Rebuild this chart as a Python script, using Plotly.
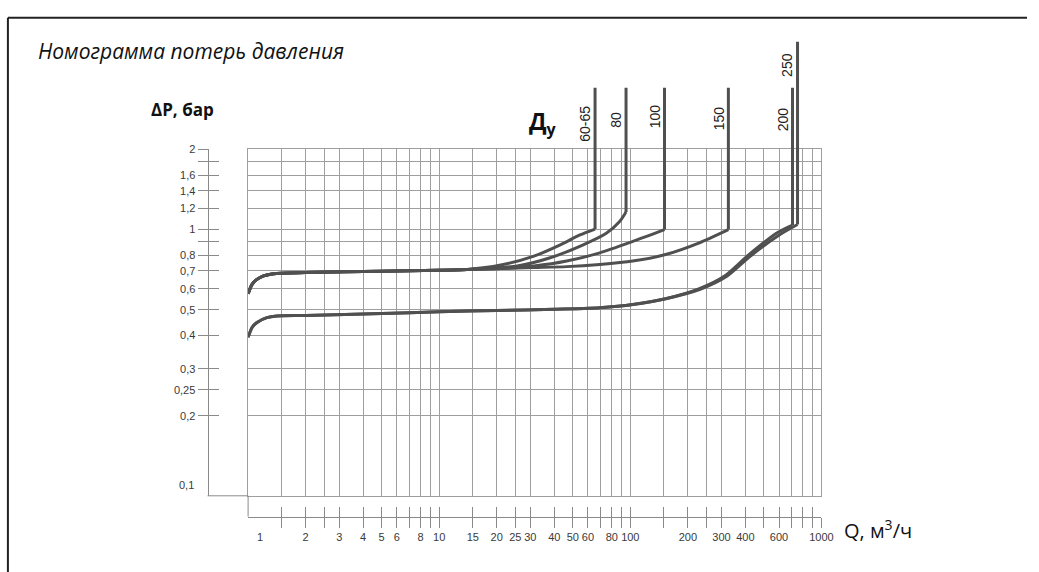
import math
import plotly.graph_objects as go

# ---------------- data ----------------
x_grid_vals = [1, 1.5, 2, 2.5, 3, 4, 5, 6, 7, 8, 9, 10, 15, 20, 25, 30, 40, 50, 60, 70,
               80, 90, 100, 150, 200, 250, 300, 400, 500, 600, 700, 800, 900, 1000]
x_label_vals = [2, 3, 4, 5, 6, 8, 10, 15, 20, 25, 30, 40, 50, 60, 80, 100, 200, 300, 400, 600, 1000]
x_label_text = ["2", "3", "4", "5", "6", "8", "10", "15", "20", "25", "30", "40", "50", "60",
                "80", "100", "200", "300", "400", "600", "1000"]

y_grid_vals = [0.1, 0.2, 0.25, 0.3, 0.4, 0.5, 0.6, 0.7, 0.8, 0.9, 1, 1.2, 1.4, 1.6, 1.8, 2]
y_tick_vals = [0.2, 0.25, 0.3, 0.4, 0.5, 0.6, 0.7, 0.8, 0.9, 1, 1.2, 1.4, 1.6, 1.8, 2]
y_tick_text = ["0,2", "0,25", "0,3", "0,4", "0,5", "0,6", "0,7", "0,8", " ", "1", "1,2", "1,4",
               "1,6", " ", "2"]

# common start of the upper family (DN 60-65 ... 150)
q_upper_base = [1.0, 1.049, 1.113, 1.205, 1.358, 2.0, 5.0, 10.0, 14.0]
dp_upper_base = [0.574, 0.623, 0.650, 0.670, 0.683, 0.690, 0.698, 0.703, 0.708]
# common start of the lower family (DN 200, 250)
q_lower_base = [1.0, 1.049, 1.113, 1.254, 1.412, 2.0, 5.0, 10.0, 20.0, 40.0, 69.0, 103.0, 153.0]
dp_lower_base = [0.394, 0.429, 0.448, 0.467, 0.474, 0.476, 0.484, 0.491, 0.497, 0.502, 0.509,
                 0.523, 0.550]

q_dn60 = [21.0, 31.3, 43.0, 54.5, 65.4]
dp_dn60 = [0.736, 0.795, 0.877, 0.955, 1.005]
q_dn80 = [17.2, 25.6, 38.1, 56.7, 74.9, 87.7, 95.0]
dp_dn80 = [0.714, 0.730, 0.784, 0.877, 0.969, 1.07, 1.165]
q_dn100 = [21.0, 31.3, 46.5, 69.2, 103.0, 151.0]
dp_dn100 = [0.714, 0.730, 0.762, 0.818, 0.903, 1.0]
q_dn150 = [31.3, 46.5, 69.2, 103.0, 153.0, 228.0, 326.0]
dp_dn150 = [0.720, 0.726, 0.740, 0.762, 0.806, 0.890, 1.0]
q_dn200 = [228.0, 313.0, 413.0, 590.0, 706.0]
dp_dn200 = [0.599, 0.671, 0.800, 0.975, 1.04]
q_dn250 = [232.0, 320.0, 425.0, 610.0, 750.0]
dp_dn250 = [0.597, 0.668, 0.795, 0.960, 1.045]

dn_names = ["60-65", "80", "100", "150", "200", "250"]
dp_top = [3.41, 3.41, 3.41, 3.41, 3.41, 5.08]

# ---------------- layout geometry ----------------
W, H = 1039, 572
GX0, GX1 = 251, 831      # grid left/right (px)
GY0, GY1 = 145, 495      # grid top/bottom (px)
Y2_TOP = 28              # top of the curve layer (px)
YSCALE_X = 210           # left pressure scale (px)
XSCALE_Y = 516           # lower flow scale (px)


def fx(px):
    return px / W


def fy(py):
    return (H - py) / H


y_range = [math.log10(0.1), math.log10(2)]
px_per_dec = (GY1 - GY0) / (y_range[1] - y_range[0])
x_px_per_dec = (GX1 - GX0) / 3.0
y2_range = [y_range[0], y_range[0] + (GY1 - Y2_TOP) / px_per_dec]

LINE_COLOR = "#505050"
GRID_COLOR = "#9e9e9e"
SCALE_COLOR = "#8a8a8a"
TICK_FONT = dict(family="Liberation Sans, Arial", size=11, color="#3a3a3a")

fig = go.Figure()

series = [
    (q_upper_base + q_dn60, dp_upper_base + dp_dn60),
    (q_upper_base + q_dn80, dp_upper_base + dp_dn80),
    (q_upper_base + q_dn100, dp_upper_base + dp_dn100),
    (q_upper_base + q_dn150, dp_upper_base + dp_dn150),
    (q_lower_base + q_dn200, dp_lower_base + dp_dn200),
    (q_lower_base + q_dn250, dp_lower_base + dp_dn250),
]

for name, (q, dp), top in zip(dn_names, series, dp_top):
    fig.add_trace(go.Scatter(x=q, y=dp, mode="lines", xaxis="x2", yaxis="y2",
                             line=dict(color=LINE_COLOR, width=3, shape="spline", smoothing=0.7),
                             showlegend=False, hoverinfo="skip", name=name))
    fig.add_trace(go.Scatter(x=[q[-1], q[-1]], y=[dp[-1], top], mode="lines", xaxis="x2", yaxis="y2",
                             line=dict(color=LINE_COLOR, width=3),
                             showlegend=False, hoverinfo="skip", name=name))

# empty traces so that every axis pair exists
fig.add_trace(go.Scatter(x=[], y=[], xaxis="x", yaxis="y", showlegend=False))
fig.add_trace(go.Scatter(x=[], y=[], xaxis="x3", yaxis="y3", showlegend=False))
fig.add_trace(go.Scatter(x=[], y=[], xaxis="x4", yaxis="y4", showlegend=False))
fig.add_trace(go.Scatter(x=[], y=[], xaxis="x5", yaxis="y", showlegend=False))
fig.add_trace(go.Scatter(x=[], y=[], xaxis="x6", yaxis="y", showlegend=False))

xdom = [fx(GX0), fx(GX1)]
ydom = [fy(GY1), fy(GY0)]
y2dom = [fy(GY1), fy(Y2_TOP)]

grid_axis = dict(showgrid=True, gridcolor=GRID_COLOR, gridwidth=1, showticklabels=False,
                 ticks="", zeroline=False, showline=True, linecolor=GRID_COLOR, linewidth=1,
                 mirror=True)

x_scale_text = [(x_label_text[x_label_vals.index(v)] if v in x_label_vals else " ")
                for v in x_grid_vals[1:]]

fig.update_layout(
    width=W, height=H, margin=dict(l=0, r=0, t=0, b=0),
    paper_bgcolor="white", plot_bgcolor="rgba(0,0,0,0)",
    xaxis=dict(type="log", domain=xdom, range=[0, 3], tickmode="array", tickvals=x_grid_vals,
               anchor="y", **grid_axis),
    yaxis=dict(type="log", domain=ydom, range=y_range, tickmode="array", tickvals=y_grid_vals,
               anchor="x", **grid_axis),
    xaxis2=dict(type="log", domain=xdom, range=[0, 3], visible=False, anchor="y2"),
    yaxis2=dict(type="log", domain=y2dom, range=y2_range, visible=False, anchor="x2"),
    # left pressure scale: ticks crossing the scale line
    yaxis3=dict(type="log", range=y_range, overlaying="y", anchor="free", position=fx(YSCALE_X),
                side="left", tickmode="array", tickvals=y_tick_vals, ticktext=y_tick_text,
                ticks="outside", ticklen=10, tickcolor=SCALE_COLOR, tickwidth=1,
                showline=True, linecolor=SCALE_COLOR, linewidth=1, showgrid=False, zeroline=False,
                tickfont=TICK_FONT),
    xaxis3=dict(type="log", range=[0, 3], domain=xdom, anchor="y3", visible=False),
    yaxis4=dict(type="log", range=y_range, overlaying="y", anchor="free", position=fx(YSCALE_X),
                side="left", tickmode="array", tickvals=y_tick_vals, showticklabels=False,
                ticks="inside", ticklen=10, tickcolor=SCALE_COLOR, tickwidth=1,
                showline=False, showgrid=False, zeroline=False),
    xaxis4=dict(type="log", range=[0, 3], domain=xdom, anchor="y4", visible=False),
    # lower flow scale
    xaxis5=dict(type="log", range=[0, 3], overlaying="x", anchor="free", position=fy(XSCALE_Y),
                side="bottom", tickmode="array", tickvals=x_grid_vals[1:], ticktext=x_scale_text,
                tickangle=0,
                ticks="outside", ticklen=10, tickcolor=SCALE_COLOR, tickwidth=1,
                showline=True, linecolor=SCALE_COLOR, linewidth=1, showgrid=False, zeroline=False,
                tickfont=TICK_FONT),
    xaxis6=dict(type="log", range=[0, 3], overlaying="x", anchor="free", position=fy(XSCALE_Y),
                side="bottom", tickmode="array", tickvals=x_grid_vals[1:], showticklabels=False,
                ticks="inside", ticklen=10, tickcolor=SCALE_COLOR, tickwidth=1,
                showline=False, showgrid=False, zeroline=False),
)

# connectors between scales and grid, and the outer frame
shapes = [
    dict(type="line", xref="paper", yref="paper", x0=fx(YSCALE_X), x1=fx(GX0), y0=fy(GY1), y1=fy(GY1),
         line=dict(color=SCALE_COLOR, width=1)),
    dict(type="line", xref="paper", yref="paper", x0=fx(GX0), x1=fx(GX0), y0=fy(GY1), y1=fy(XSCALE_Y),
         line=dict(color=SCALE_COLOR, width=1)),
    dict(type="line", xref="paper", yref="paper", x0=fx(8), x1=1, y0=fy(12), y1=fy(12),
         line=dict(color="#222222", width=2)),
    dict(type="line", xref="paper", yref="paper", x0=fx(8), x1=fx(8), y0=fy(12), y1=0,
         line=dict(color="#222222", width=2)),
]
fig.update_layout(shapes=shapes)

ann = []
ann.append(dict(text="Номограмма потерь давления", xref="paper", yref="paper", x=fx(36), y=fy(45),
                xanchor="left", yanchor="middle", showarrow=False,
                font=dict(family="Open Sans", size=21, color="#111111", style="italic")))
ann.append(dict(text="<b>ΔP, бар</b>", xref="paper", yref="paper", x=fx(151), y=fy(105),
                xanchor="left", yanchor="middle", showarrow=False,
                font=dict(family="Open Sans", size=17, color="#111111")))
ann.append(dict(text="Q, м<sup>3</sup>/ч", xref="paper", yref="paper", x=fx(852), y=fy(529),
                xanchor="left", yanchor="middle", showarrow=False,
                font=dict(family="Open Sans", size=20, color="#111111")))
ann.append(dict(text="<b>Д<sub>у</sub></b>", xref="paper", yref="paper", x=fx(533), y=fy(118),
                xanchor="left", yanchor="middle", showarrow=False,
                font=dict(family="Open Sans", size=23, color="#111111")))
# extra scale labels (offset as in the original)
ann.append(dict(text="1", xref="x", yref="paper", x=(263 - GX0) / x_px_per_dec,
                y=fy(537), xanchor="center", yanchor="middle", showarrow=False, font=TICK_FONT))
ann.append(dict(text="0,1", xref="paper", yref="y", x=fx(198), y=math.log10(0.11),
                xanchor="right", yanchor="middle", showarrow=False, font=TICK_FONT))

# DN labels next to the vertical lines
label_centers_py = [119, 115, 112, 113, 115, 60]
for name, (q, dp), cpy in zip(dn_names, series, label_centers_py):
    yv = y_range[0] + (GY1 - cpy) / px_per_dec
    ann.append(dict(text=name, xref="x2", yref="y2", x=math.log10(q[-1]), y=yv, xshift=-10,
                    xanchor="center", yanchor="middle", textangle=-90, showarrow=False,
                    font=dict(family="Liberation Sans, Arial", size=14, color="#222222")))
fig.update_layout(annotations=ann)

PAGE_FIX = (
    "var s=document.createElement('style');"
    "s.textContent='html,body{margin:0!important;padding:0!important;overflow:hidden!important;"
    "width:1039px;height:572px;}';"
    "document.head.appendChild(s);"
)

fig.write_html("out.html", config={"displayModeBar": False, "responsive": False},
               post_script=PAGE_FIX)
